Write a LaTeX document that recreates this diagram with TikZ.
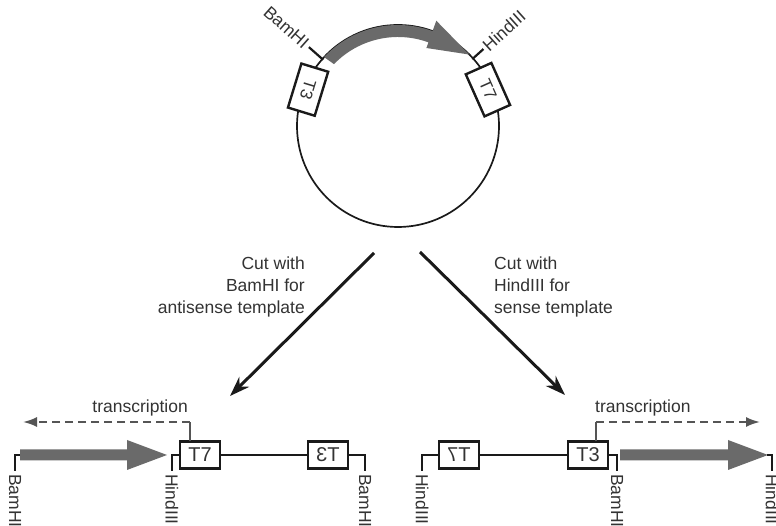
\documentclass[tikz,border=0pt]{standalone}
\usepackage{fontspec}
\usepackage{graphicx}
\setmainfont{Liberation Sans}
\usetikzlibrary{arrows.meta,calc}
\definecolor{ink}{HTML}{1A1A1A}
\definecolor{txt}{HTML}{333333}
\definecolor{insertgray}{HTML}{6A6A6A}
\definecolor{dashgray}{HTML}{555555}
\begin{document}
\begin{tikzpicture}[x=1pt,y=1pt,
  lbl/.style={text=txt,inner sep=0pt,font=\fontsize{17.5}{22}\selectfont},
  cbox/.style={draw=ink,fill=white,line width=2.4pt,minimum width=46pt,minimum height=28pt,inner sep=0pt,text=txt,font=\fontsize{17}{17}\selectfont},
  dbox/.style={draw=ink,fill=white,line width=2.4pt,minimum width=40pt,minimum height=27pt,inner sep=0pt,text=txt,font=\fontsize{20}{20}\selectfont},
  dna/.style={draw=ink,line width=1.9pt},
  tickline/.style={draw=ink,line width=2.2pt},
  cutarrow/.style={draw=ink,line width=3pt,-{Stealth[length=20pt,width=14pt]}},
  transdash/.style={draw=dashgray,line width=2pt,dash pattern=on 8pt off 5pt,-{Latex[length=14pt,width=10pt]}},
  transtick/.style={draw=dashgray,line width=1.4pt}]
\useasboundingbox (0,0) rectangle (776,526);
\fill[white] (0,0) rectangle (776,526);

% plasmid
\coordinate (C) at (398,400);
\draw[ink,line width=1.7pt] (C) circle[radius=101];
\fill[insertgray] ($(C)+(137:101)$) arc[start angle=137,end angle=70,radius=101]
  -- ($(C)+(70:112)$) -- ($(C)+(45:101)$) -- ($(C)+(70:83)$) -- ($(C)+(70:89)$)
  arc[start angle=70,end angle=136,radius=89] -- cycle;
\coordinate (bA) at ($(C)+(138.5:100)$);
\coordinate (bB) at ($(C)+(138.5:119)$);
\draw[tickline] (bA) -- (bB);
\node[lbl,anchor=east,rotate=-41.5] (bamC) at ($(C)+(138.5:122)$) {BamHI};
\coordinate (hA) at ($(C)+(42:100)$);
\coordinate (hB) at ($(C)+(42:115)$);
\draw[tickline] (hA) -- (hB);
\node[lbl,anchor=west,rotate=42] (hindC) at ($(C)+(42:117)$) {HindIII};
\node[cbox,rotate=-107] (t3c) at ($(C)+(158:97)$) {T3};
\node[cbox,rotate=-66] (t7c) at ($(C)+(22:97)$) {T7};

% cut arrows
\coordinate (l1) at (374,273);
\coordinate (l2) at (230,130);
\draw[cutarrow] (l1) -- (l2);
\coordinate (r1) at (420,274);
\coordinate (r2) at (565,131);
\draw[cutarrow] (r1) -- (r2);
\node[lbl,align=right,anchor=east] (cutL) at (305,239) {Cut with\\BamHI for\\antisense template};
\node[lbl,align=left,anchor=west] (cutR) at (494,239) {Cut with\\HindIII for\\sense template};

% left linear template
\node[dbox] (L7) at (200,71) {T7};
\node[dbox] (L3) at (328,71) {\reflectbox{T3}};
\coordinate (LbT) at (15,55);
\coordinate (LaS) at (20,71);
\draw[dna] (LbT) |- (LaS);
\fill[insertgray] (20,65.5) -- (127,65.5) -- (127,56) -- (167,71) -- (127,86) -- (127,76.5) -- (20,76.5) -- cycle;
\coordinate (LhT) at (172,55);
\draw[dna] (LhT) |- (L7.west);
\draw[dna] (L7.east) -- (L3.west);
\coordinate (LbT2) at (365,55);
\draw[dna] (L3.east) -| (LbT2);
\node[lbl,rotate=-90,anchor=west] (Lbam) at (15,52) {BamHI};
\node[lbl,rotate=-90,anchor=west] (Lhind) at (172,52) {HindIII};
\node[lbl,rotate=-90,anchor=west] (Lbam2) at (365,52) {BamHI};
\coordinate (Lt0) at (190,84.5);
\coordinate (Lt1) at (190,104);
\coordinate (Lt2) at (23,104);
\draw[transtick] (Lt0) -- (Lt1);
\draw[transdash] (Lt1) -- (Lt2);
\node[lbl,anchor=east] (Ltr) at (188,118) {transcription};

% right linear template
\node[dbox] (R7) at (459,71) {\reflectbox{T7}};
\node[dbox] (R3) at (588,71) {T3};
\coordinate (RhT) at (422,55);
\draw[dna] (RhT) |- (R7.west);
\draw[dna] (R7.east) -- (R3.west);
\coordinate (RbT) at (617,55);
\draw[dna] (R3.east) -| (RbT);
\fill[insertgray] (620,65.5) -- (728,65.5) -- (728,56) -- (768,71) -- (728,86) -- (728,76.5) -- (620,76.5) -- cycle;
\coordinate (RaE) at (767,71);
\coordinate (RhT2) at (772,55);
\draw[dna] (RaE) -| (RhT2);
\node[lbl,rotate=-90,anchor=west] (Rhind) at (422,52) {HindIII};
\node[lbl,rotate=-90,anchor=west] (Rbam) at (617,52) {BamHI};
\node[lbl,rotate=-90,anchor=west] (Rhind2) at (772,52) {HindIII};
\coordinate (Rt0) at (596,84.5);
\coordinate (Rt1) at (596,104);
\coordinate (Rt2) at (760,104);
\draw[transtick] (Rt0) -- (Rt1);
\draw[transdash] (Rt1) -- (Rt2);
\node[lbl,anchor=west] (Rtr) at (595,118) {transcription};
\end{tikzpicture}
\end{document}
